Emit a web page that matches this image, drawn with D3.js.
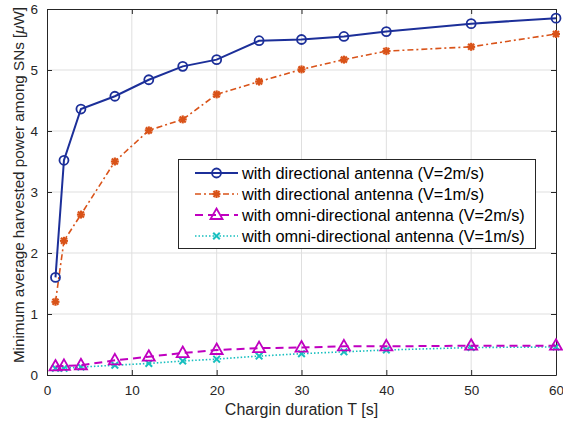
<!DOCTYPE html>
<html>
<head>
<meta charset="utf-8">
<script src="https://cdn.jsdelivr.net/npm/d3@7"></script>
<style>
  body { margin: 0; background: #fff; }
  svg { font-family: "Liberation Sans", Arial, sans-serif; }
</style>
</head>
<body>
<svg id="chart" width="563" height="421"></svg>
<script>
// Charging durations (s)
const durations = [1, 2, 4, 8, 12, 16, 20, 25, 30, 35, 40, 50, 60];
// Minimum average harvested power (µW)
const dirV2  = [1.60, 3.52, 4.36, 4.57, 4.84, 5.06, 5.17, 5.48, 5.50, 5.55, 5.63, 5.76, 5.85];
const dirV1  = [1.20, 2.20, 2.63, 3.50, 4.01, 4.19, 4.60, 4.81, 5.01, 5.17, 5.31, 5.38, 5.59];
const omniV2 = [0.14, 0.15, 0.16, 0.24, 0.30, 0.36, 0.41, 0.44, 0.45, 0.47, 0.47, 0.48, 0.48];
const omniV1 = [0.11, 0.11, 0.13, 0.16, 0.19, 0.23, 0.26, 0.31, 0.35, 0.38, 0.41, 0.45, 0.46];
const xTicks = [0, 10, 20, 30, 40, 50, 60];
const yTicks = [0, 1, 2, 3, 4, 5, 6];
const seriesNames = [
  "with directional antenna (V=2m/s)",
  "with directional antenna (V=1m/s)",
  "with omni-directional antenna (V=2m/s)",
  "with omni-directional antenna (V=1m/s)"
];

const series = [
  { name: seriesNames[0], values: dirV2,  color: "#1c2f99", dash: null,        marker: "circle",   width: 2 },
  { name: seriesNames[1], values: dirV1,  color: "#d95319", dash: "6,3,2,3",   marker: "asterisk", width: 1.6 },
  { name: seriesNames[2], values: omniV2, color: "#c000c0", dash: "8,5",       marker: "triangle", width: 2 },
  { name: seriesNames[3], values: omniV1, color: "#17bfbf", dash: "1.5,2",     marker: "cross",    width: 1.6 }
];

const svg = d3.select("#chart");
const m = { left: 47, right: 7, top: 9, bottom: 46 };
const W = 563, H = 421;
const x = d3.scaleLinear().domain([0, 60]).range([m.left, W - m.right]);
const y = d3.scaleLinear().domain([0, 6]).range([H - m.bottom, m.top]);

// grid
const grid = svg.append("g").attr("stroke", "#dfdfdf").attr("stroke-width", 1);
xTicks.slice(1, -1).forEach(t => grid.append("line")
  .attr("x1", x(t)).attr("x2", x(t)).attr("y1", y(0)).attr("y2", y(6)));
yTicks.slice(1, -1).forEach(t => grid.append("line")
  .attr("x1", x(0)).attr("x2", x(60)).attr("y1", y(t)).attr("y2", y(t)));

// axes with inward ticks
const axisStyle = g => {
  g.selectAll("path").attr("stroke", "#262626");
  g.selectAll("line").attr("stroke", "#262626");
  g.selectAll("text").attr("fill", "#262626").attr("font-size", 13.5)
    .attr("font-family", "Liberation Sans, Arial, sans-serif");
};
const fmt = d3.format("d");
svg.append("g").attr("transform", `translate(0,${y(0)})`)
  .call(d3.axisBottom(x).tickValues(xTicks).tickFormat(fmt).tickSizeInner(-5).tickSizeOuter(0).tickPadding(10))
  .call(axisStyle);
svg.append("g").attr("transform", `translate(${x(0)},0)`)
  .call(d3.axisLeft(y).tickValues(yTicks).tickFormat(fmt).tickSizeInner(-5).tickSizeOuter(0).tickPadding(9))
  .call(axisStyle);
svg.append("g").attr("transform", `translate(0,${y(6)})`)
  .call(d3.axisTop(x).tickValues(xTicks).tickSizeInner(-5).tickSizeOuter(0).tickFormat(""))
  .call(axisStyle);
svg.append("g").attr("transform", `translate(${x(60)},0)`)
  .call(d3.axisRight(y).tickValues(yTicks).tickSizeInner(-5).tickSizeOuter(0).tickFormat(""))
  .call(axisStyle);

// axis titles
svg.append("text").attr("x", (x(0) + x(60)) / 2).attr("y", 415)
  .attr("text-anchor", "middle").attr("font-size", 16).attr("fill", "#262626")
  .text("Chargin duration T [s]");
const yl = svg.append("text")
  .attr("transform", `translate(24,185) rotate(-90)`)
  .attr("text-anchor", "middle").attr("font-size", 15.2).attr("fill", "#262626");
yl.append("tspan").text("Minimum average harvested power among SNs [");
yl.append("tspan").attr("font-style", "italic").text("μ");
yl.append("tspan").text("W]");

// marker drawing
function drawMarker(g, type, color) {
  if (type === "circle") {
    g.append("circle").attr("r", 4.5).attr("fill", "none").attr("stroke", color).attr("stroke-width", 1.8);
  } else if (type === "asterisk") {
    const s = 4;
    [[-s, 0, s, 0], [0, -s, 0, s], [-s * .75, -s * .75, s * .75, s * .75], [-s * .75, s * .75, s * .75, -s * .75]]
      .forEach(d => g.append("line").attr("x1", d[0]).attr("y1", d[1]).attr("x2", d[2]).attr("y2", d[3])
        .attr("stroke", color).attr("stroke-width", 2.2));
  } else if (type === "triangle") {
    g.append("path").attr("d", "M0,-6.5L6,4L-6,4Z").attr("fill", "none")
      .attr("stroke", color).attr("stroke-width", 1.8);
  } else if (type === "cross") {
    const s = 3.3;
    [[-s, -s, s, s], [-s, s, s, -s]].forEach(d => g.append("line")
      .attr("x1", d[0]).attr("y1", d[1]).attr("x2", d[2]).attr("y2", d[3])
      .attr("stroke", color).attr("stroke-width", 2));
  }
}

const line = d3.line().x(d => x(d[0])).y(d => y(d[1]));
// draw omni series first so directional lines sit on top
[3, 2, 1, 0].forEach(i => {
  const s = series[i];
  const pts = durations.map((d, k) => [d, s.values[k]]);
  svg.append("path").datum(pts).attr("d", line).attr("fill", "none")
    .attr("stroke", s.color).attr("stroke-width", s.width)
    .attr("stroke-dasharray", s.dash);
  pts.forEach(p => {
    const g = svg.append("g").attr("transform", `translate(${x(p[0])},${y(p[1])})`);
    drawMarker(g, s.marker, s.color);
  });
});

// legend
const lg = svg.append("g");
lg.append("rect").attr("x", 178.5).attr("y", 159.5).attr("width", 357).attr("height", 89)
  .attr("fill", "#fff").attr("stroke", "#262626").attr("stroke-width", 1);
const rowsY = [173, 194, 215, 236];
series.forEach((s, i) => {
  const ry = rowsY[i];
  lg.append("line").attr("x1", 195).attr("x2", 238).attr("y1", ry).attr("y2", ry)
    .attr("stroke", s.color).attr("stroke-width", s.width).attr("stroke-dasharray", s.dash);
  drawMarker(lg.append("g").attr("transform", `translate(216.5,${ry})`), s.marker, s.color);
  lg.append("text").attr("x", 242).attr("y", ry + 5.5).attr("font-size", 16.3).attr("fill", "#000")
    .text(s.name);
});
</script>
</body>
</html>
